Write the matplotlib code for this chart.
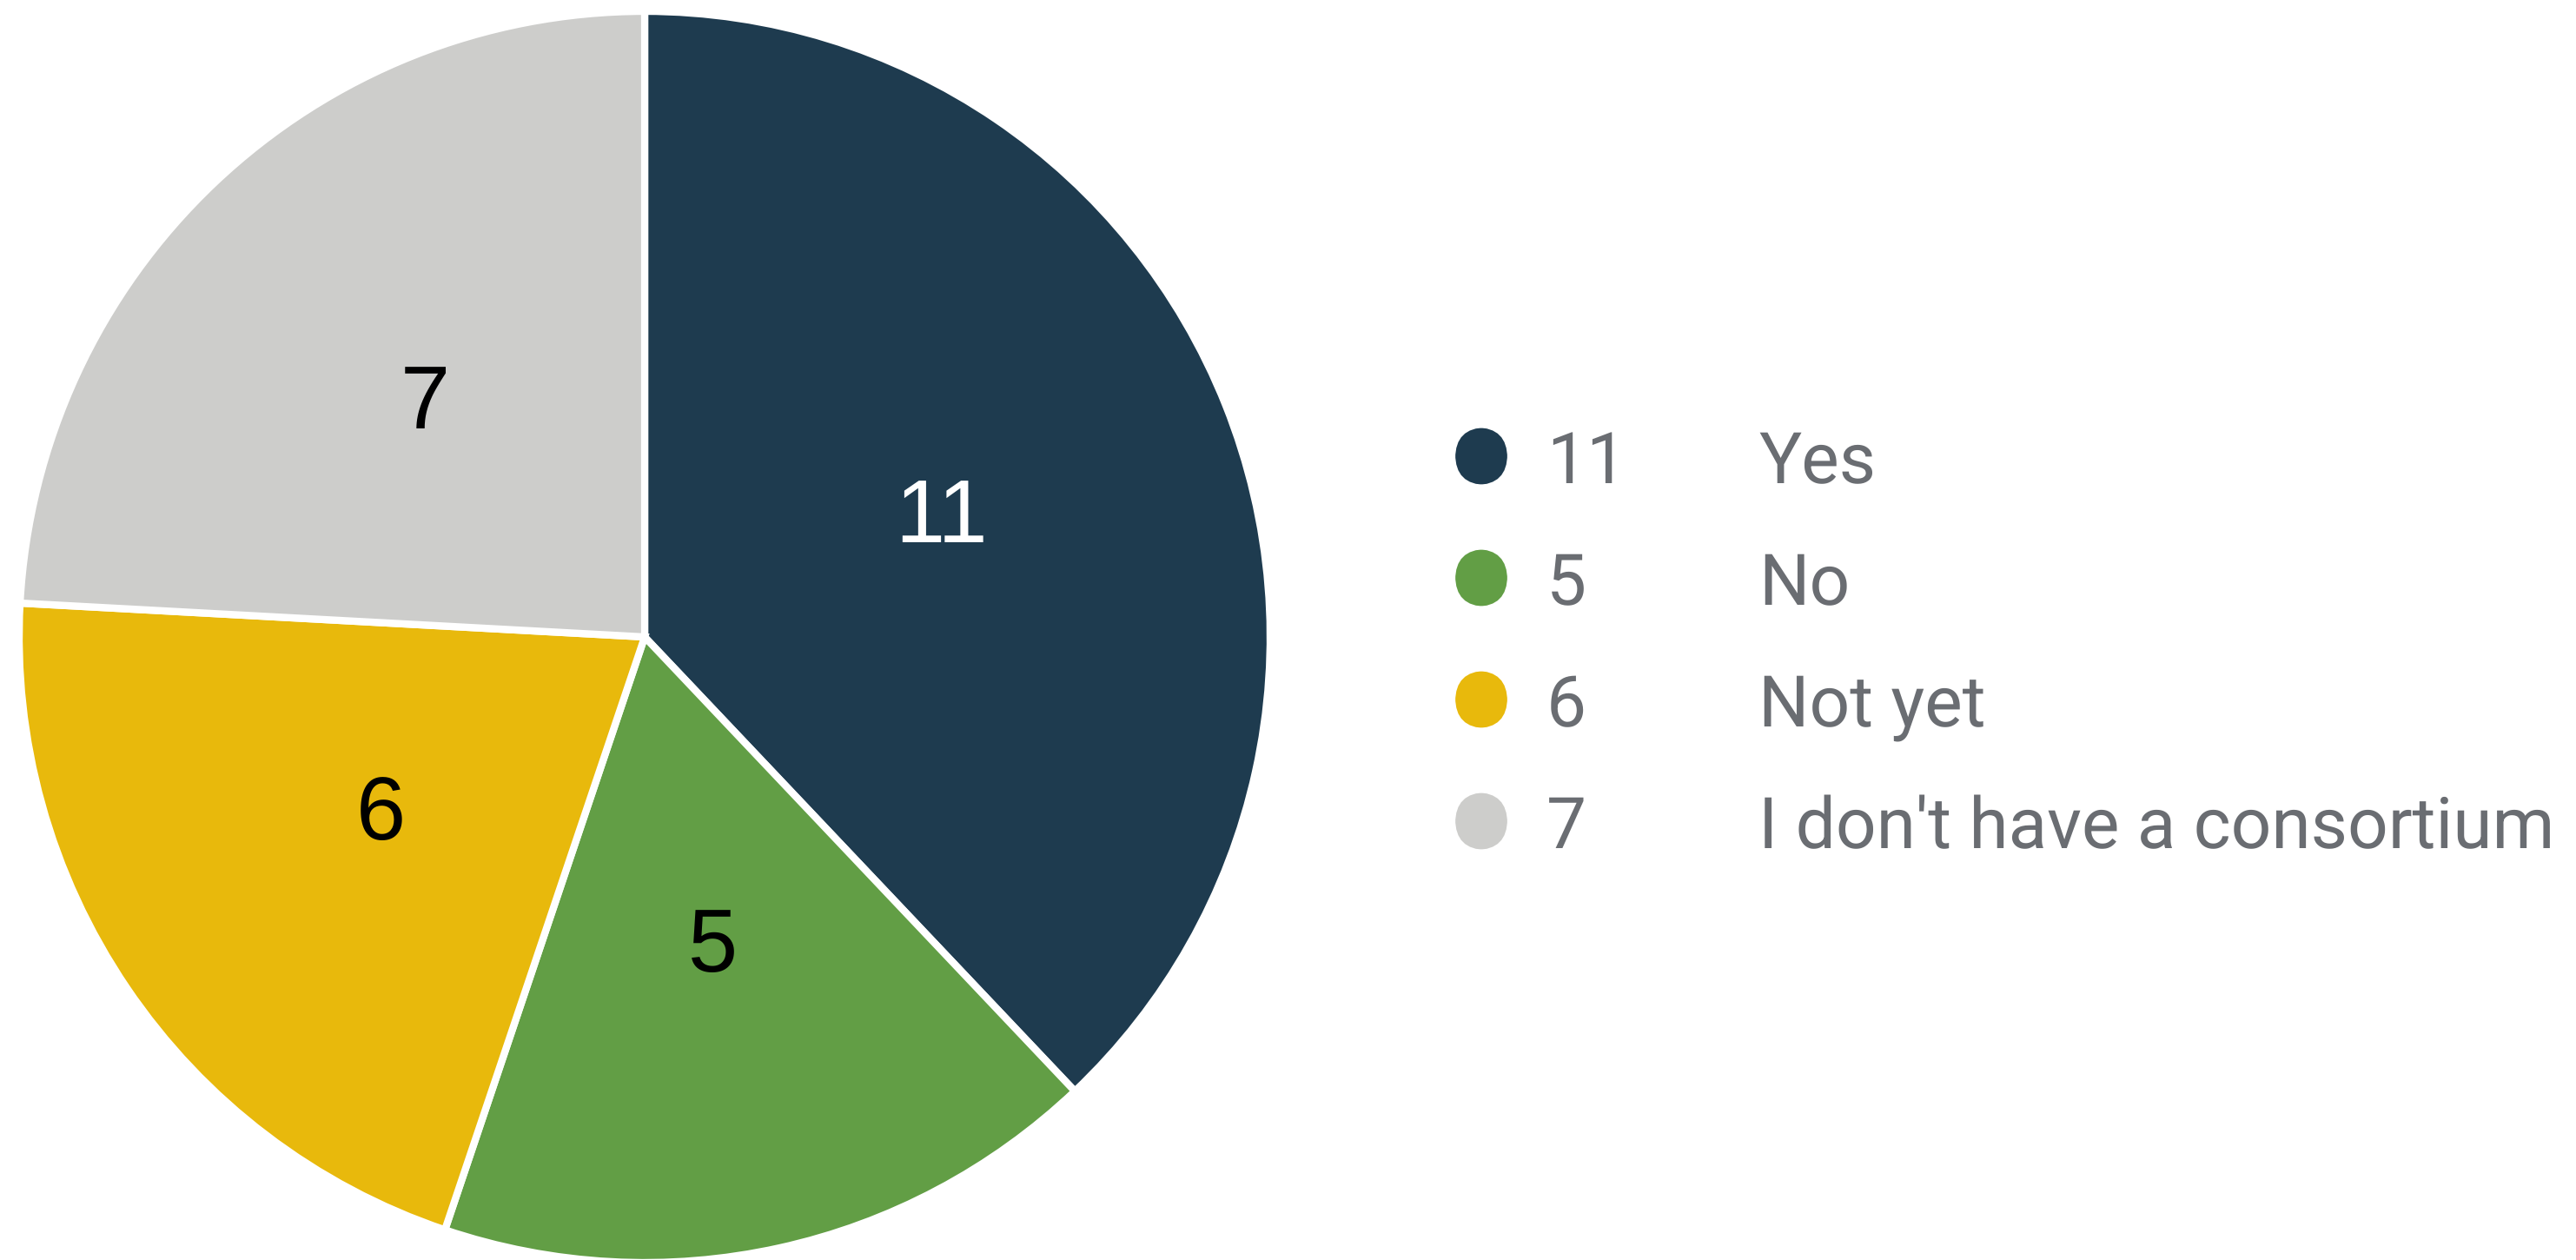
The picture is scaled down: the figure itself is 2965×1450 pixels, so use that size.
import matplotlib.pyplot as plt
from matplotlib.patches import FancyBboxPatch

plt.rcParams['text.hinting'] = 'no_hinting'
plt.rcParams['text.antialiased'] = True

# survey answers
labels = ["Yes", "No", "Not yet", "I don't have a consortium"]
counts = [11, 5, 6, 7]
colors = ["#1E3B4F", "#629E45", "#E8B90C", "#CDCDCB"]
label_colors = ["white", "black", "black", "black"]

W, H = 2965, 1450
fig = plt.figure(figsize=(W / 100, H / 100), dpi=100)

# pie: centre ~ (742, 733) px, radius ~ 720 px
cx, cy, R = 742, 733, 720
ax = fig.add_axes([(cx - R) / W, (H - cy - R) / H, 2 * R / W, 2 * R / H])
wedges, texts = ax.pie(counts, colors=colors, startangle=90, counterclock=False,
                       labels=[str(c) for c in counts], labeldistance=0.51,
                       wedgeprops=dict(edgecolor="white", linewidth=6))
for t, c in zip(texts, label_colors):
    t.set_color(c)
    t.set_fontsize(74)
    t.set_family("Liberation Sans")
    t.set_ha("center")
    t.set_va("center")
ax.set_xlim(-1, 1)
ax.set_ylim(-1, 1)
ax.axis("off")

# legend drawn by hand
y0, dy = 525, 140
for i, (lab, c, col) in enumerate(zip(labels, counts, colors)):
    y = y0 + i * dy
    box = FancyBboxPatch(((1705 - 30) / W, (H - y - 33) / H), 60 / W, 66 / H,
                         boxstyle="round,pad=0,rounding_size=0.012",
                         transform=fig.transFigure, facecolor=col, edgecolor="none",
                         mutation_aspect=W / H)
    fig.add_artist(box)
    fig.text(1780 / W, (H - y) / H, str(c), fontsize=59, color="#6A6D72",
             family="Roboto", va="center_baseline", ha="left")
    fig.text(2024 / W, (H - y) / H, lab, fontsize=59, color="#6A6D72",
             family="Roboto", va="center_baseline", ha="left")

fig.savefig("out.png", dpi=100, facecolor="white")
